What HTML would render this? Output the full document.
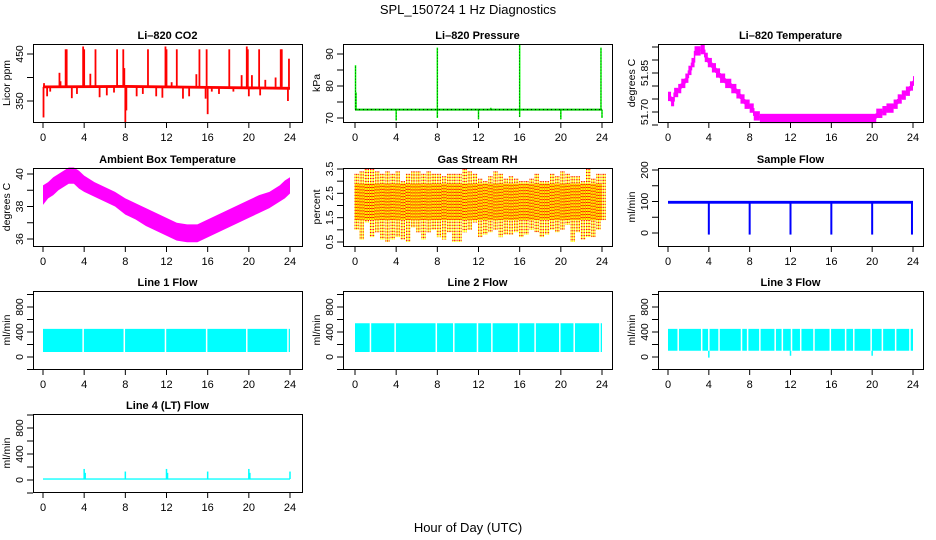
<!DOCTYPE html>
<html><head><meta charset="utf-8"><style>
html,body{margin:0;padding:0;background:#fff;width:936px;height:540px;overflow:hidden}
svg{font-family:"Liberation Sans",sans-serif}
</style></head><body>
<svg id="chart" width="936" height="540" viewBox="0 0 936 540" xmlns="http://www.w3.org/2000/svg">
<text x="468" y="14" font-size="13" text-anchor="middle">SPL_150724  1 Hz Diagnostics</text>
<text x="468" y="532" font-size="13" text-anchor="middle">Hour of Day (UTC)</text>
</svg>
<script>
// ---- data ----
const xTicks = [0,4,8,12,16,20,24];
const co2BaseT = [0,8,16,24];
const co2BaseLo = [377,378,376,374];
const co2BaseHi = [383,384,382,380];
const co2SpikeT = [0.05,0.1,0.4,0.7,1.6,1.7,2.2,2.3,2.8,3.3,3.9,4.0,4.6,5.1,5.5,6.2,6.9,7.2,7.8,7.9,8.0,8.1,9.1,9.7,10.2,11.0,11.6,11.9,12.0,12.5,13.0,13.6,14.2,14.9,15.2,15.8,15.9,16.0,16.4,17.1,18.1,18.5,19.3,19.8,19.9,20.0,20.3,21.0,21.1,21.6,22.6,23.1,23.2,23.8,23.9];
const co2SpikeV = [315,388,360,370,410,392,460,460,356,365,466,460,408,460,358,362,368,460,460,420,305,330,360,365,460,360,357,466,460,390,460,355,360,407,460,355,460,322,370,365,460,370,405,466,460,360,405,460,362,395,400,460,460,350,440];
const presBase = 72.6;
const presSpikeT = [0.05,0.1,4.0,8.0,8.0,12.0,13.2,16.0,16.0,20.0,23.9,24.0];
const presSpikeV = [86.5,78,69.2,92,70,69.6,73.2,93,70.3,69.6,92,70];
const tempT = [0,0.3,0.6,1.0,1.3,1.7,2.0,2.3,2.6,3.2,3.6,3.9,4.3,4.7,5.1,5.6,6.2,6.7,7.1,7.5,8.0,8.4,9.0,20.4,21.0,21.4,22.1,22.5,22.9,23.3,23.7,24.0];
const tempV = [51.76,51.74,51.775,51.79,51.81,51.83,51.86,51.89,51.935,51.94,51.91,51.89,51.87,51.85,51.83,51.81,51.79,51.77,51.75,51.73,51.715,51.685,51.675,51.695,51.705,51.715,51.73,51.75,51.765,51.78,51.80,51.82];
const ambT = [0,0.5,1,1.5,2,2.5,3,3.5,4,5,6,7,8,9,10,11,12,13,14,15,16,17,18,19,20,21,22,23,23.5,24];
const ambLo = [38.1,38.5,38.7,39.0,39.2,39.4,39.4,39.1,38.9,38.6,38.3,38.0,37.5,37.2,36.8,36.5,36.2,35.9,35.8,35.8,36.1,36.4,36.7,37.0,37.3,37.6,37.9,38.3,38.5,38.8];
const ambHi = [39.3,39.5,39.8,40.0,40.2,40.4,40.4,40.2,39.9,39.5,39.2,38.9,38.5,38.2,37.9,37.6,37.3,37.0,36.9,36.9,37.2,37.5,37.8,38.1,38.4,38.7,38.9,39.3,39.6,39.8];
const rhLo = [1.0,0.6,1.3,0.7,0.9,0.6,0.5,0.6,0.7,0.6,0.5,1.1,0.9,0.6,0.9,1.0,0.7,0.6,0.9,0.5,0.5,0.9,1.0,1.3,0.7,0.8,0.9,1.0,0.7,0.8,0.8,0.9,0.7,0.8,1.0,0.9,0.7,0.8,1.0,0.9,1.0,1.2,0.5,0.9,0.6,0.7,0.7,1.0,1.4];
const rhHi = [3.3,3.4,3.5,3.5,3.4,3.3,3.4,3.3,3.4,3.0,3.3,3.4,3.4,3.3,3.4,3.3,3.3,3.2,3.3,3.3,3.3,3.5,3.4,3.3,3.1,3.0,3.2,3.4,3.3,3.1,3.2,3.1,3.0,3.0,3.1,3.3,3.0,3.0,3.3,3.2,3.4,3.3,3.2,3.2,3.0,3.5,3.1,3.3,3.3];
const rhCore = [1.4,2.9];
const sfBand = [93,102];
const sfSpikeT = [4.0,8.0,12.0,16.0,20.0,23.9];
const sfSpikeV = [-5,-5,-5,-5,-5,-5];
const l1Band = [80,450];
const l1Gaps = [3.9,7.9,11.9,15.9,19.8,23.8];
const l2Band = [80,540];
const l2Gaps = [1.5,3.9,7.9,9.6,11.9,13.3,15.9,17.5,19.9,21.3,23.8];
const l3Band = [100,450];
const l3Gaps = [1.0,3.3,4.0,5.0,7.2,7.8,9.0,10.5,11.2,12.1,13.0,14.3,15.9,17.4,18.2,19.9,21.0,22.3,23.7];
const l3SpikeT = [4.0,12.0,20.0];
const l3SpikeV = [-10,20,20];
const l4Base = [5,25];
const l4SpikeT = [4.0,4.1,8.0,12.0,12.1,16.0,20.0,20.1,24.0];
const l4SpikeV = [170,110,130,170,110,130,170,110,130];

// ---- layout ----
const NS='http://www.w3.org/2000/svg';
const svg=document.getElementById('chart');
function mk(tag,attrs,parent){const e=document.createElementNS(NS,tag);for(const k in attrs)e.setAttribute(k,attrs[k]);(parent||svg).appendChild(e);return e;}
const cols=[{bx:33,bw:269,x0:43,x24:290},{bx:343,bw:269,x0:355,x24:602},{bx:658,bw:265,x0:668,x24:913}];
const rows=[44,168,291,414];const BH=78;

function panel(name,title,c,r,yref,ticks,labels,ylab){
  const col=cols[c],top=rows[r];
  const g=mk('g',{});
  
  
  const X=h=>col.x0+h*(col.x24-col.x0)/24;
  const Y=v=>yref[1]+(v-yref[0])*(yref[3]-yref[1])/(yref[2]-yref[0]);
  const t=mk('text',{x:col.bx+col.bw/2,y:top-5,'font-size':11,'font-weight':'bold','text-anchor':'middle'},g);
  t.textContent=title;
  
  
  const plot=mk('g',{},g);
  
  
  const ax=mk('g',{stroke:'#000','stroke-width':1},g);
  
  
  mk('rect',{x:col.bx+.5,y:top+.5,width:col.bw,height:BH,fill:'none'},ax);
  xTicks.forEach(h=>{mk('line',{x1:X(h),x2:X(h),y1:top+BH,y2:top+BH+6},ax);
    const l=mk('text',{x:X(h),y:top+BH+19,'font-size':11,'text-anchor':'middle',stroke:'none'},g);l.textContent=h;
    
    });
  ticks.forEach((v,i)=>{const y=Y(v);mk('line',{x1:col.bx-6,x2:col.bx,y1:y,y2:y},ax);
    if(labels[i]){const l=mk('text',{x:0,y:0,'font-size':10.5,'text-anchor':'middle',transform:`translate(${col.bx-10},${y}) rotate(-90)`},g);l.textContent=labels[i];
    
    }});
  const yl=mk('text',{x:0,y:0,'font-size':10.5,'text-anchor':'middle',transform:`translate(${col.bx-23},${top+BH/2}) rotate(-90)`},g);yl.textContent=ylab;
  
  
  return {X,Y,plot};
}
function line(p,x1,y1,x2,y2,col,w,extra){const a={x1,y1,x2,y2,stroke:col,'stroke-width':w||1};Object.assign(a,extra||{});return mk('line',a,p);}
function band(P,lo,hi,col){mk('rect',{x:P.X(0),y:P.Y(hi),width:P.X(24)-P.X(0),height:P.Y(lo)-P.Y(hi),fill:col},P.plot);}
function gaps(P,arr,lo,hi){arr.forEach(h=>line(P.plot,P.X(h),P.Y(hi)-1,P.X(h),P.Y(lo)+1,'#fff',1.5));}
function spikes(P,T,V,base,col,w){T.forEach((h,i)=>line(P.plot,P.X(h),P.Y(base),P.X(h),P.Y(V[i]),col,w||1.5));}

// CO2
let P=panel('co2','Li\u2013820 CO2',0,0,[350,101,450,54],[350,400,450],['350','','450'],'Licor ppm');
{let pts=[];co2BaseT.forEach((h,i)=>pts.push(P.X(h)+','+P.Y(co2BaseHi[i])));for(let i=co2BaseT.length-1;i>=0;i--)pts.push(P.X(co2BaseT[i])+','+P.Y(co2BaseLo[i]));
mk('polygon',{points:pts.join(' '),fill:'#ff0000'},P.plot);}
spikes(P,co2SpikeT,co2SpikeV,380,'#ff0000',1.8);
// Pressure
P=panel('pressure','Li\u2013820 Pressure',1,0,[70,118,90,54],[70,75,80,85,90],['70','','80','','90'],'kPa');
line(P.plot,P.X(0),P.Y(presBase),P.X(24),P.Y(presBase),'#00cc00',2);
line(P.plot,P.X(0),P.Y(presBase),P.X(24),P.Y(presBase),'#000',1,{'stroke-dasharray':'1,3'});
spikes(P,presSpikeT,presSpikeV,presBase,'#00ff00',1.5);
presSpikeT.forEach((h,i)=>line(P.plot,P.X(h),P.Y(presBase),P.X(h),P.Y(presSpikeV[i]),'#000',0.7,{'stroke-dasharray':'1,2'}));
// Li-820 temperature
P=panel('li820-temp','Li\u2013820 Temperature',2,0,[51.70,112,51.85,73],[51.65,51.70,51.75,51.80,51.85,51.90,51.95],['','51.70','','','51.85','',''],'degrees C');
tempT.forEach((h,i)=>{const h2=i<tempT.length-1?tempT[i+1]:24.05;const v=tempV[i];
  mk('rect',{x:P.X(h),y:P.Y(v+0.018),width:Math.max(1,P.X(h2)-P.X(h)),height:P.Y(v-0.018)-P.Y(v+0.018),fill:'#ff00ff'},P.plot);
  if(i>0)line(P.plot,P.X(h),P.Y(tempV[i-1]),P.X(h),P.Y(v),'#ff00ff',1.5);});
// Ambient
P=panel('ambient-temp','Ambient Box Temperature',0,1,[36,239,40,174],[36,37,38,39,40],['36','','38','','40'],'degrees C');
{let pts=[];ambT.forEach((h,i)=>pts.push(P.X(h)+','+P.Y(ambHi[i])));for(let i=ambT.length-1;i>=0;i--)pts.push(P.X(ambT[i])+','+P.Y(ambLo[i]));
mk('polygon',{points:pts.join(' '),fill:'#ff00ff'},P.plot);}
// RH
P=panel('gas-rh','Gas Stream RH',1,1,[0.5,242,3.5,169],[0.5,1,1.5,2,2.5,3,3.5],['0.5','','1.5','','2.5','','3.5'],'percent');
mk('rect',{x:P.X(0),y:P.Y(rhCore[1]),width:P.X(24)-P.X(0),height:P.Y(rhCore[0])-P.Y(rhCore[1]),fill:'#ff9a00'},P.plot);
rhLo.forEach((lo,i)=>{const h=i*0.5;const hi=rhHi[i];for(let k=0;k<3;k++){const x=P.X(h)+k*1.6;
  line(P.plot,x,P.Y(hi),x,P.Y(lo),'#ffff00',1);line(P.plot,x,P.Y(hi),x,P.Y(lo),'#ff0000',1,{'stroke-dasharray':'1,2'});}});
// Sample flow
P=panel('sample-flow','Sample Flow',2,1,[0,233,200,170],[0,50,100,150,200],['0','','100','','200'],'ml/min');
band(P,sfBand[0],sfBand[1],'#0000ff');
spikes(P,sfSpikeT,sfSpikeV,97,'#0000ff',2);
const flowTicks=[-200,0,200,400,600,800,1000],flowLabels=['','0','','400','','800',''];
// Line 1
P=panel('line1-flow','Line 1 Flow',0,2,[0,357,800,307],flowTicks,flowLabels,'ml/min');
band(P,l1Band[0],l1Band[1],'#00ffff');gaps(P,l1Gaps,l1Band[0],l1Band[1]);
// Line 2
P=panel('line2-flow','Line 2 Flow',1,2,[0,357,800,307],flowTicks,flowLabels,'ml/min');
band(P,l2Band[0],l2Band[1],'#00ffff');gaps(P,l2Gaps,l2Band[0],l2Band[1]);
// Line 3
P=panel('line3-flow','Line 3 Flow',2,2,[0,357,800,307],flowTicks,flowLabels,'ml/min');
band(P,l3Band[0],l3Band[1],'#00ffff');gaps(P,l3Gaps,l3Band[0],l3Band[1]);spikes(P,l3SpikeT,l3SpikeV,l3Band[0],'#00ffff',1.5);
// Line 4
P=panel('line4-flow','Line 4 (LT) Flow',0,3,[0,480,800,428],flowTicks,flowLabels,'ml/min');
band(P,l4Base[0],l4Base[1],'#00ffff');spikes(P,l4SpikeT,l4SpikeV,15,'#00ffff',1.5);
</script>
</body></html>
